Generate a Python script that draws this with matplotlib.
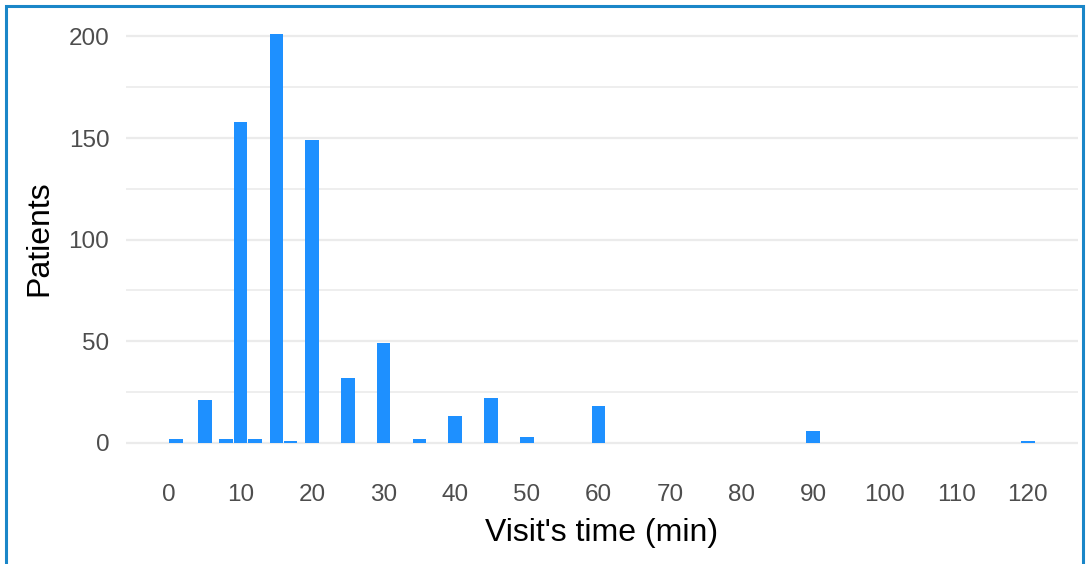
import matplotlib
matplotlib.use("Agg")
import matplotlib.pyplot as plt
from matplotlib.patches import Rectangle
from matplotlib.ticker import MultipleLocator

# visit length (min) -> number of patients
visit_minutes = [1, 5, 8, 10, 12, 15, 17, 20, 25, 30, 35, 40, 45, 50, 60, 90, 120]
patients = [2, 21, 2, 158, 2, 201, 1, 149, 32, 49, 2, 13, 22, 3, 18, 6, 1]

x_ticks = list(range(0, 121, 10))
y_ticks = [0, 50, 100, 150, 200]

plt.rcParams['font.family'] = ['Liberation Sans', 'DejaVu Sans']

fig = plt.figure(figsize=(10.9, 5.64), dpi=100)
ax = fig.add_axes([0.1156, 0.179, 0.8734, 0.796])

ax.bar(visit_minutes, patients, width=1.9, color='#1E90FF', zorder=3)

ax.set_xlim(-6, 127)
ax.set_ylim(-10, 211)
ax.set_xticks(x_ticks)
ax.set_yticks(y_ticks)
ax.yaxis.set_minor_locator(MultipleLocator(25))

ax.grid(axis='y', which='major', color='#EBEBEB', linewidth=1.6, zorder=0)
ax.grid(axis='y', which='minor', color='#EBEBEB', linewidth=1.2, zorder=0)
ax.tick_params(axis='both', which='both', length=0, labelsize=17.5,
               labelcolor='#4D4D4D')
ax.tick_params(axis='x', pad=15)
ax.tick_params(axis='y', pad=12)
for s in ax.spines.values():
    s.set_visible(False)

ax.set_xlabel("Visit's time (min)", fontsize=23, color='black', labelpad=9)
ax.set_ylabel("Patients", fontsize=23, color='black', labelpad=10)

# blue frame around the picture
fig.patches.append(Rectangle((6 / 1090, -0.05), 1077 / 1090, 1 - 6 / 564 + 0.05,
                             transform=fig.transFigure, fill=False,
                             edgecolor='#1A86C8', linewidth=2.2))

fig.savefig('out.png', dpi=100)
